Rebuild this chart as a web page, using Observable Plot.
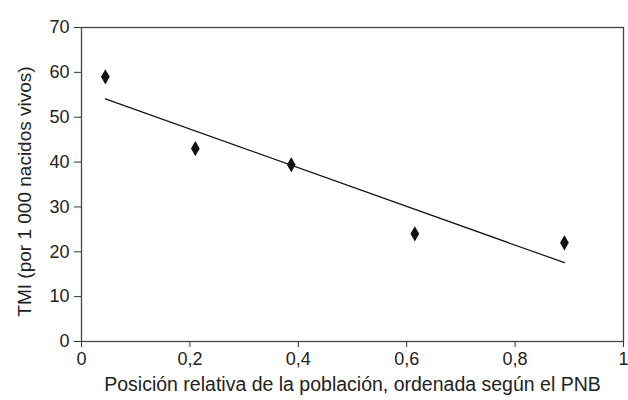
<!DOCTYPE html>
<html>
<head>
<meta charset="utf-8">
<script src="https://cdn.jsdelivr.net/npm/d3@7"></script>
<script src="https://cdn.jsdelivr.net/npm/@observablehq/plot@0.6"></script>
<style>
  html, body { margin: 0; padding: 0; background: #fff; }
  svg { display: block; }
</style>
</head>
<body>
<div id="chart"></div>
<script>
const posicion = [0.044, 0.21, 0.387, 0.615, 0.891];
const tmi = [59, 43, 39.4, 24, 22];
const xTicks = [0, 0.2, 0.4, 0.6, 0.8, 1];
const yTicks = [0, 10, 20, 30, 40, 50, 60, 70];
const xLabel = "Posición relativa de la población, ordenada según el PNB";
const yLabel = "TMI (por 1 000 nacidos vivos)";

const data = posicion.map((x, i) => ({x, y: tmi[i]}));
const fmt = d => String(d).replace(".", ",");

const chart = Plot.plot({
  width: 628,
  height: 400,
  marginLeft: 81,
  marginRight: 5,
  marginTop: 27,
  marginBottom: 59,
  style: {fontFamily: "'Liberation Sans', Arial, sans-serif", fontSize: "18px", color: "#222", background: "#fff", overflow: "visible"},
  x: {domain: [0, 1]},
  y: {domain: [0, 70]},
  marks: [
    Plot.frame({stroke: "#444", strokeWidth: 1.3}),
    Plot.axisX({ticks: xTicks, tickFormat: fmt, tickSize: 6, tickPadding: 5, fontSize: 18,
      stroke: "#333", label: null}),
    Plot.axisY({ticks: yTicks, tickSize: 7, tickPadding: 5, fontSize: 18,
      stroke: "#333", label: null}),
    Plot.text([xLabel], {frameAnchor: "bottom", dy: 49, fontSize: 19.5, fill: "#222"}),
    Plot.text([yLabel], {frameAnchor: "left", textAnchor: "middle", rotate: -90, dx: -57, dy: 7, fontSize: 19, fill: "#222"}),
    Plot.linearRegressionY(data, {x: "x", y: "y", ci: 0, stroke: "#111", strokeWidth: 1.2}),
    Plot.dot(data, {x: "x", y: "y", symbol: "diamond", r: 4.6, fill: "#111", stroke: "none"})
  ]
});
chart.querySelectorAll("text").forEach(t => t.setAttribute("fill", "#222"));
document.getElementById("chart").appendChild(chart);
</script>
</body>
</html>
